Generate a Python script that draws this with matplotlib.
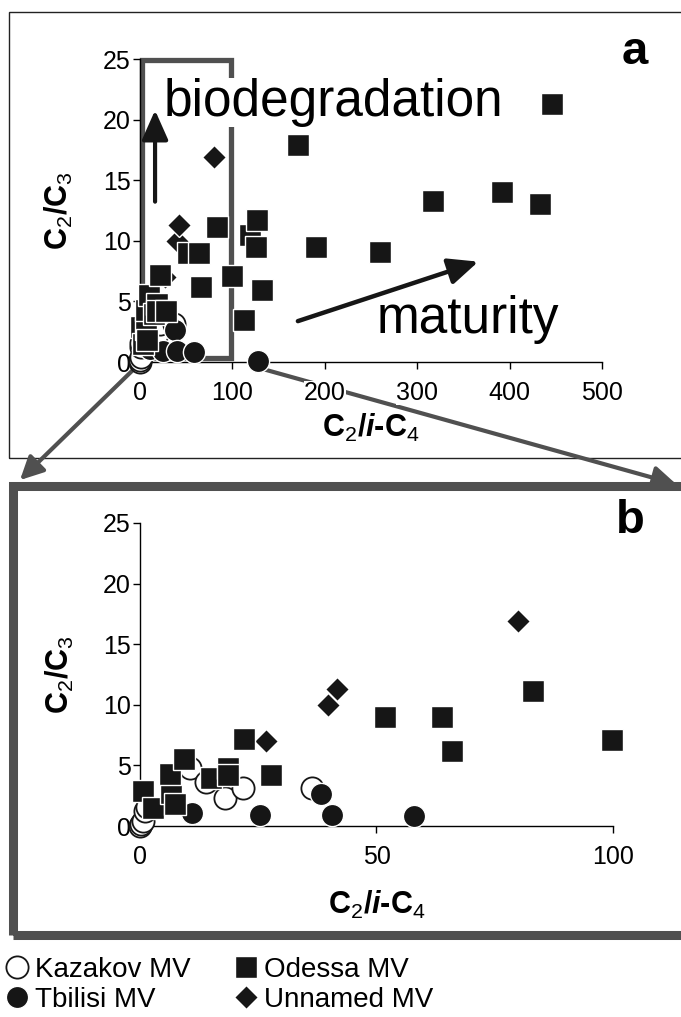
import numpy as np
import matplotlib.pyplot as plt
from matplotlib.patches import Rectangle, FancyArrowPatch

plt.rcParams['font.family'] = ['Liberation Sans', 'DejaVu Sans']
plt.rcParams['mathtext.fontset'] = 'custom'
plt.rcParams['mathtext.rm'] = 'Liberation Sans'
plt.rcParams['mathtext.bf'] = 'Liberation Sans:bold'
plt.rcParams['mathtext.it'] = 'Liberation Sans:italic'
plt.rcParams['mathtext.bfit'] = 'Liberation Sans:bold:italic'

# C2/i-C4 (x) and C2/C3 (y) for each mud volcano
kazakov_x = [10.5, 13.9, 17.9, 21.7, 36.3, 0.0, 0.3, 0.6, 1.0, 1.5]
kazakov_y = [4.8, 3.6, 2.3, 3.1, 3.1, 0.0, 0.2, 0.4, 1.2, 1.6]

tbilisi_x = [11.0, 25.4, 38.2, 40.5, 58.0, 128.0]
tbilisi_y = [1.1, 0.9, 2.6, 0.9, 0.8, 0.05]

unnamed_x = [26.6, 39.8, 41.7, 80.0]
unnamed_y = [7.0, 10.0, 11.3, 16.9]

odessa_x = [0.7, 2.8, 6.5, 7.4, 6.3, 9.3, 15.0, 18.6, 18.6, 21.9, 27.8,
            51.7, 63.8, 65.9, 83.0, 99.8,
            113.0, 119.5, 125.5, 127.0, 132.5, 170.5, 190.5, 260.0,
            317.0, 392.0, 433.0, 446.0]
odessa_y = [2.9, 1.5, 2.7, 1.8, 4.3, 5.5, 4.0, 4.8, 4.2, 7.2, 4.2,
            9.0, 9.0, 6.2, 11.1, 7.1,
            3.5, 10.5, 9.5, 11.7, 5.9, 17.9, 9.5, 9.05,
            13.25, 14.0, 13.0, 21.3]

W, H = 681, 1017
def fx(x):
    return x / W
def fy(y):
    return 1 - y / H

fig = plt.figure(figsize=(W / 100, H / 100), dpi=100)
ink = '#161616'
grey = '#505050'

series = [
    ('Kazakov MV', kazakov_x, kazakov_y, dict(marker='o', ms=16, mfc='white', mec=ink, mew=1.3)),
    ('Tbilisi MV', tbilisi_x, tbilisi_y, dict(marker='o', ms=16, mfc=ink, mec='white', mew=1)),
    ('Unnamed MV', unnamed_x, unnamed_y, dict(marker='D', ms=12, mfc=ink, mec='white', mew=1)),
    ('Odessa MV', odessa_x, odessa_y, dict(marker='s', ms=16.5, mfc=ink, mec='white', mew=1)),
]

xlab = '$\\mathbf{C}_{\\mathrm{2}}\\mathbf{/}\\mathbfit{i}\\mathbf{\u2010C}_{\\mathrm{4}}$'
ylab = r'$\mathbf{C}_{\mathrm{2}}\mathbf{/C}_{\mathrm{3}}$'

ax_a = fig.add_axes([fx(140), fy(362), 462 / W, 303 / H])
ax_b = fig.add_axes([fx(140), fy(826), 473 / W, 303 / H])

handles = {}
for ax, xmax in [(ax_a, 500), (ax_b, 100)]:
    for name, xs, ys, st in series:
        xs = np.array(xs)
        ys = np.array(ys)
        keep = xs <= xmax + 1
        h, = ax.plot(xs[keep], ys[keep], ls='none', clip_on=False, zorder=3, **st)
        handles[name] = h
    ax.set_xlim(0, xmax)
    ax.set_ylim(0, 25)
    ax.set_yticks([0, 5, 10, 15, 20, 25])
    ax.patch.set_visible(False)
    for s in ['top', 'right']:
        ax.spines[s].set_visible(False)
    for s in ['left', 'bottom']:
        ax.spines[s].set_linewidth(1)
    ax.tick_params(direction='out', length=5, width=1, labelsize=18)
    ax.tick_params(axis='x', pad=9)
    ax.tick_params(axis='y', pad=1.5)
    ax.set_xlabel(xlab, fontsize=22)
    ax.set_ylabel(ylab, fontsize=22)
    ax.xaxis.label.set_va('center')
    ax.yaxis.label.set_va('center')

ax_a.set_xticks([0, 100, 200, 300, 400, 500])
ax_b.set_xticks([0, 50, 100])
ax_a.xaxis.set_label_coords(0.5, -0.218)
ax_a.yaxis.set_label_coords(-0.175, 0.5)
ax_b.xaxis.set_label_coords(0.5, -0.261)
ax_b.yaxis.set_label_coords(-0.169, 0.5)
for lab in ax_a.get_xticklabels():
    lab.set_bbox(dict(facecolor='white', edgecolor='none', pad=0))

# biodegradation window and trend arrows in panel a
ax_a.add_patch(Rectangle((2.2, 0.33), 96.5, 24.57, fill=False, ec=grey, lw=3.8,
                         clip_on=False, zorder=1.5))
ax_a.text(26, 20.3, 'biodegradation', fontsize=37, va='baseline', zorder=2,
          bbox=dict(facecolor='white', edgecolor='none', pad=0))
ax_a.text(256, 2.4, 'maturity', fontsize=37, va='baseline', zorder=2)
ax_a.annotate('', xy=(16.3, 21.0), xytext=(16.3, 13.0),
              arrowprops=dict(arrowstyle='-|>,head_length=0.9,head_width=0.4',
                              mutation_scale=20, lw=3, color=ink), zorder=2)
ax_a.annotate('', xy=(369, 8.35), xytext=(168, 3.3),
              arrowprops=dict(arrowstyle='-|>,head_length=0.9,head_width=0.4',
                              mutation_scale=20, lw=3.2, color=ink), zorder=2)

ax_a.text(1.071, 1.023, 'a', transform=ax_a.transAxes, fontsize=34, fontweight='bold',
          ha='center', va='center')
ax_b.text(1.036, 1.007, 'b', transform=ax_b.transAxes, fontsize=34, fontweight='bold',
          ha='center', va='center')

# panel frames
fig.patches.append(Rectangle((fx(9), fy(458)), 1.0, (458 - 12) / H, fill=False, ec='#222222',
                             lw=1, transform=fig.transFigure, zorder=-1))
fig.patches.append(Rectangle((fx(13), fy(935)), 1.0, (935 - 486) / H, fill=False, ec=grey,
                             lw=6.5, transform=fig.transFigure, zorder=-1))

# zoom connectors
for p0, p1 in [((135, 368), (18, 482)), ((252, 366), (679, 485))]:
    arr = FancyArrowPatch((fx(p0[0]), fy(p0[1])), (fx(p1[0]), fy(p1[1])),
                          transform=fig.transFigure,
                          arrowstyle='-|>,head_length=0.7,head_width=0.35',
                          mutation_scale=20, lw=3, color=grey, clip_on=False, zorder=1)
    ax_a.add_artist(arr)

order = ['Kazakov MV', 'Tbilisi MV', 'Odessa MV', 'Unnamed MV']
fig.legend([handles[k] for k in order], order, loc='upper left',
           bbox_to_anchor=(fx(6), fy(957)), ncol=2, frameon=False, fontsize=20,
           handlelength=0.8, handletextpad=0.25, columnspacing=1.6,
           labelspacing=0.15, borderpad=0, borderaxespad=0)

plt.savefig('out.png', dpi=100)
